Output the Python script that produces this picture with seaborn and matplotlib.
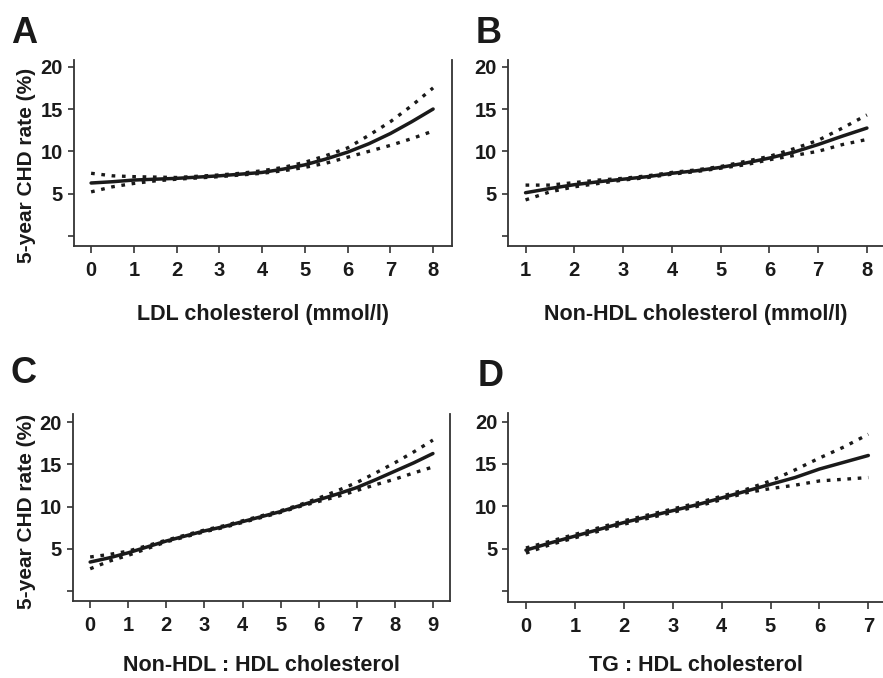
import matplotlib
matplotlib.use("Agg")
import matplotlib.pyplot as plt
import numpy as np
import pandas as pd
import seaborn as sns

# Panel A: LDL cholesterol
ldl_x = [0, 0.5, 1, 1.5, 2, 2.5, 3, 3.5, 4, 4.5, 5, 5.5, 6, 6.5, 7, 7.5, 8]
ldl_mid = [6.25, 6.4, 6.6, 6.7, 6.8, 6.95, 7.1, 7.3, 7.5, 7.9, 8.4, 9.1, 9.9, 10.9, 12.1, 13.5, 15.0]
ldl_hi = [7.4, 7.1, 7.0, 6.95, 6.9, 7.05, 7.2, 7.4, 7.7, 8.1, 8.7, 9.5, 10.4, 11.9, 13.5, 15.4, 17.5]
ldl_lo = [5.2, 5.8, 6.2, 6.5, 6.7, 6.85, 7.0, 7.2, 7.4, 7.7, 8.1, 8.6, 9.3, 10.0, 10.7, 11.5, 12.4]

# Panel B: non-HDL cholesterol
nonhdl_x = [1, 1.5, 2, 2.5, 3, 3.5, 4, 4.5, 5, 5.5, 6, 6.5, 7, 7.5, 8]
nonhdl_mid = [5.1, 5.6, 6.05, 6.4, 6.7, 7.0, 7.4, 7.7, 8.1, 8.6, 9.2, 9.9, 10.8, 11.8, 12.75]
nonhdl_hi = [6.0, 6.0, 6.3, 6.6, 6.8, 7.1, 7.5, 7.8, 8.2, 8.8, 9.4, 10.3, 11.3, 12.75, 14.3]
nonhdl_lo = [4.25, 5.2, 5.8, 6.2, 6.6, 6.9, 7.3, 7.6, 8.0, 8.4, 9.0, 9.5, 10.0, 10.8, 11.4]

# Panel C: non-HDL : HDL ratio
ratio_x = [0, 0.5, 1, 1.5, 2, 2.5, 3, 3.5, 4, 4.5, 5, 5.5, 6, 6.5, 7, 7.5, 8, 8.5, 9]
ratio_mid = [3.4, 3.9, 4.5, 5.2, 5.9, 6.5, 7.1, 7.6, 8.2, 8.8, 9.4, 10.1, 10.8, 11.5, 12.25, 13.2, 14.2, 15.2, 16.3]
ratio_hi = [4.0, 4.3, 4.7, 5.35, 6.0, 6.6, 7.2, 7.7, 8.3, 8.9, 9.5, 10.2, 11.0, 11.9, 12.85, 14.0, 15.2, 16.5, 17.9]
ratio_lo = [2.6, 3.5, 4.2, 5.0, 5.8, 6.4, 7.0, 7.5, 8.1, 8.7, 9.3, 10.0, 10.6, 11.2, 11.9, 12.6, 13.25, 14.0, 14.7]

# Panel D: TG : HDL ratio
tg_x = [0, 0.5, 1, 1.5, 2, 2.5, 3, 3.5, 4, 4.5, 5, 5.5, 6, 6.5, 7]
tg_mid = [4.85, 5.7, 6.5, 7.3, 8.1, 8.8, 9.5, 10.2, 11.0, 11.8, 12.6, 13.4, 14.4, 15.2, 16.0]
tg_hi = [5.1, 5.9, 6.7, 7.5, 8.3, 9.0, 9.7, 10.4, 11.2, 12.0, 13.0, 14.3, 15.7, 17.0, 18.5]
tg_lo = [4.5, 5.5, 6.3, 7.1, 7.9, 8.6, 9.3, 10.0, 10.8, 11.6, 12.1, 12.5, 13.0, 13.2, 13.4]

y_ticks = [0, 5, 10, 15, 20]
y_labels = ["", "5", "10", "15", "20"]
y_title = "5-year CHD rate (%)"

sns.set_style("white")
plt.rcParams['font.family'] = ['Liberation Sans', 'DejaVu Sans']
plt.rcParams['font.weight'] = 'bold'

ink = "#1a1a1a"

fig = plt.figure(figsize=(8.83, 6.78), dpi=100)

panels = [
    # letter, x, mid, hi, lo, xlabel, axes rect, xlim, ylim, ylabel pos (None = no label), right spine?, letter pos, xticks, labelpad
    ("A", ldl_x, ldl_mid, ldl_hi, ldl_lo, "LDL cholesterol (mmol/l)",
     [0.0838, 0.6372, 0.428, 0.2743], (-0.40, 8.44), (-1.2, 20.8), (-0.100, 0.435), True, (0.012, 0.977), range(0, 9), 17),
    ("B", nonhdl_x, nonhdl_mid, nonhdl_hi, nonhdl_lo, "Non-HDL cholesterol (mmol/l)",
     [0.5753, 0.6372, 0.4247, 0.2743], (0.64, 8.33), (-1.2, 20.8), None, False, (0.539, 0.977), range(1, 9), 17),
    ("C", ratio_x, ratio_mid, ratio_hi, ratio_lo, "Non-HDL : HDL cholesterol",
     [0.0827, 0.1136, 0.427, 0.2758], (-0.45, 9.45), (-1.23, 21.0), (-0.098, 0.48), True, (0.012, 0.475), range(0, 10), 14),
    ("D", tg_x, tg_mid, tg_hi, tg_lo, "TG : HDL cholesterol",
     [0.5757, 0.1125, 0.4243, 0.2783], (-0.36, 7.3), (-1.23, 21.0), None, False, (0.541, 0.471), range(0, 8), 14),
]

for letter, xs, mid, hi, lo, xlab, rect, xlim, ylim, ylab_pos, right, lpos, xt, lpad in panels:
    ax = fig.add_axes(rect)
    df = pd.DataFrame({"x": xs, "mid": mid, "hi": hi, "lo": lo})
    sns.lineplot(data=df, x="x", y="hi", ax=ax, color=ink, lw=2.4,
                 linestyle=(0, (1.1, 2.0)))
    sns.lineplot(data=df, x="x", y="lo", ax=ax, color=ink, lw=2.4,
                 linestyle=(0, (1.1, 2.0)))
    sns.lineplot(data=df, x="x", y="mid", ax=ax, color=ink, lw=2.5)

    ax.set_xlim(*xlim)
    ax.set_ylim(*ylim)
    ax.set_xticks(list(xt))
    ax.set_yticks(y_ticks)
    ax.set_yticklabels(y_labels)
    ax.tick_params(axis="x", direction="out", length=5, width=1.2, colors="#333333",
                   labelsize=14.5, labelcolor=ink, pad=6, bottom=True)
    ax.tick_params(axis="y", direction="out", length=4, width=1.2, colors="#333333",
                   labelsize=14.5, labelcolor=ink, pad=4, left=True)
    for t in ax.get_xticklabels() + ax.get_yticklabels():
        t.set_fontweight("bold")

    ax.spines["top"].set_visible(False)
    ax.spines["right"].set_visible(right)
    for s in ["left", "bottom", "right"]:
        ax.spines[s].set_color("#333333")
        ax.spines[s].set_linewidth(1.3)

    ax.set_xlabel(xlab, fontsize=15.5, fontweight="bold", color=ink, labelpad=lpad)
    if ylab_pos is not None:
        ax.set_ylabel(y_title, fontsize=15, fontweight="bold", color=ink)
        ax.yaxis.set_label_coords(*ylab_pos)
    else:
        ax.set_ylabel("")

    fig.text(lpos[0], lpos[1], letter, fontsize=26, fontweight="bold", color=ink,
             ha="left", va="top")

fig.savefig("out.png", dpi=100)
